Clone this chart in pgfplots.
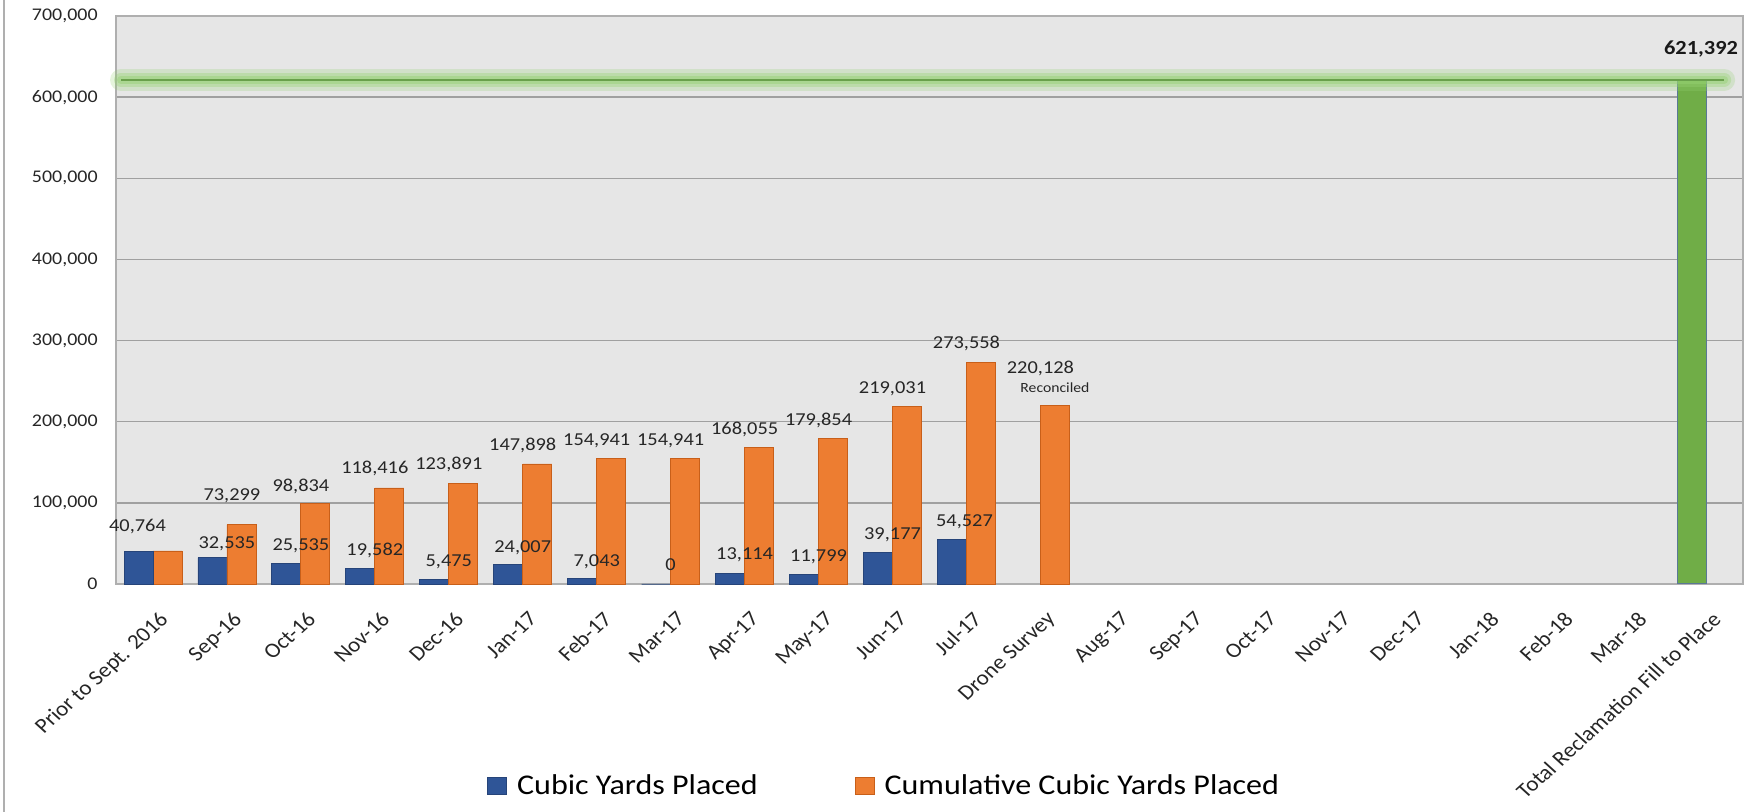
\documentclass[border=0pt]{standalone}
\usepackage{pgfplots}
\pgfplotsset{compat=1.18}
\usepackage{pgfplotstable}
\usepackage{fontspec}
\setmainfont{Carlito}[FakeStretch=1.12]
\newfontfamily\plainfont{Carlito}

\definecolor{placedblue}{RGB}{47,85,151}
\definecolor{cumorange}{RGB}{237,125,49}
\definecolor{orangeedge}{RGB}{200,95,25}
\definecolor{totalgreen}{RGB}{112,173,71}
\definecolor{greenedge}{RGB}{90,120,150}
\definecolor{glowgreen}{RGB}{150,210,115}
\definecolor{linegreen}{RGB}{105,160,75}
\definecolor{plotbg}{RGB}{230,230,230}
\definecolor{gridgray}{RGB}{160,160,160}
\definecolor{framegray}{RGB}{175,175,175}
\definecolor{labelcolor}{RGB}{38,38,38}

% x = category index, dx/dy = label offsets in pt
\pgfplotstableread{
x y dx dy
1 32535 0 4.3
2 25535 0 6.15
3 19582 0 6.5
4 5475 0 6.3
5 24007 0 6.25
6 7043 0 5.65
7 0 0 6.5
8 13114 0 6.7
9 11799 0 6.5
10 39177 0 6.5
11 54527 -1 6.5
}\placed

\pgfplotstableread{
x y dx dy
0 40764 -7.75 9.5
1 73299 2.5 12.25
2 98834 0 6.4
3 118416 0 7
4 123891 0 6.75
5 147898 0 6.5
6 154941 0 6.2
7 154941 0 6.2
8 168055 0 6.65
9 179854 0 6.5
10 219031 0 6.5
11 273558 0 6.85
12 220128 0 15.7
}\cumulative

\begin{document}
\begin{tikzpicture}
\useasboundingbox (-58pt,-114pt) rectangle (816.5pt,292pt);
\draw[framegray, line width=0.75pt] (-56pt,292pt) -- (-56pt,-114pt);
\begin{axis}[
    width=813.5pt, height=284pt, scale only axis,
    xmin=-0.5, xmax=21.5, ymin=0, ymax=700000,
    xtick={0,...,21},
    xticklabels={Prior to Sept. 2016, Sep-16, Oct-16, Nov-16, Dec-16, Jan-17, Feb-17, Mar-17, Apr-17, May-17, Jun-17, Jul-17, Drone Survey, Aug-17, Sep-17, Oct-17, Nov-17, Dec-17, Jan-18, Feb-18, Mar-18, Total Reclamation Fill to Place},
    ytick={0,100000,...,700000},
    scaled y ticks=false,
    /pgf/number format/fixed,
    /pgf/number format/precision=0,
    /pgf/number format/1000 sep={,},
    /pgf/number format/assume math mode=true,
    ymajorgrids,
    major grid style={gridgray, line width=0.75pt},
    major tick length=0pt,
    axis line style={framegray, line width=0.75pt},
    axis background/.style={fill=plotbg},
    clip=false,
    tick label style={font=\fontsize{8.9pt}{10pt}\selectfont, color=labelcolor},
    yticklabel style={anchor=east, inner sep=0pt, xshift=-9pt},
    xticklabel style={font=\plainfont\fontsize{10.5pt}{12pt}\selectfont, xshift=2.5pt, yshift=-13pt, xscale=1.1, rotate=45, anchor=north east, inner sep=0pt},
    legend columns=-1,
    legend style={at={(0.228,-0.3556)}, anchor=west, draw=none, fill=none,
      font=\fontsize{14.3pt}{16pt}\selectfont, inner sep=0pt,
      /tikz/every odd column/.append style={column sep=3pt},
      /tikz/every even column/.append style={column sep=46.5pt}},
    legend image code/.code={\draw[#1] (0pt,-4.25pt) rectangle (9.5pt,4.25pt);},
]

\addplot[ybar, bar width=14.5pt, bar shift=-7.25pt, fill=placedblue, draw=placedblue!80!black, line width=0.4pt,
    nodes near coords,
    visualization depends on={\thisrow{dx} \as \lbldx},
    visualization depends on={\thisrow{dy} \as \lbldy},
    nodes near coords style={anchor=base, inner sep=0pt, xshift=\lbldx pt, yshift=\lbldy pt,
      font=\fontsize{9.1pt}{10pt}\selectfont, color=labelcolor}]
  table[x=x, y=y] {\placed};
\addlegendentry{Cubic Yards Placed}

\addplot[ybar, bar width=14.5pt, bar shift=7.25pt, fill=cumorange, draw=orangeedge, line width=0.4pt,
    nodes near coords,
    visualization depends on={\thisrow{dx} \as \lbldx},
    visualization depends on={\thisrow{dy} \as \lbldy},
    nodes near coords style={anchor=base, inner sep=0pt, xshift=\lbldx pt, yshift=\lbldy pt,
      font=\fontsize{9.1pt}{10pt}\selectfont, color=labelcolor}]
  table[x=x, y=y] {\cumulative};
\addlegendentry{Cumulative Cubic Yards Placed}

% first blue bar, its value is labelled on the orange one
\addplot[forget plot, ybar, bar width=14.5pt, bar shift=-7.25pt, fill=placedblue, draw=placedblue!80!black, line width=0.4pt]
  coordinates {(0,40764)};

% total to place
\addplot[forget plot, ybar, bar width=14.5pt, bar shift=-7.25pt, fill=totalgreen, draw=greenedge, line width=0.5pt,
    nodes near coords,
    nodes near coords style={anchor=base, inner sep=0pt, xshift=-2.5pt, yshift=12.5pt,
      font=\bfseries\fontsize{10pt}{11pt}\selectfont, color=black!90}]
  coordinates {(21,621392)};

% target line with glow
\addplot[forget plot, glowgreen, opacity=0.25, line width=11pt, line cap=round] coordinates {(-0.432,621392) (21.245,621392)};
\addplot[forget plot, glowgreen, opacity=0.35, line width=7pt, line cap=round] coordinates {(-0.432,621392) (21.245,621392)};
\addplot[forget plot, glowgreen, opacity=0.45, line width=4pt, line cap=round] coordinates {(-0.432,621392) (21.245,621392)};
\addplot[forget plot, linegreen, line width=0.8pt] coordinates {(-0.432,621392) (21.245,621392)};

% second line of the drone survey label
\addplot[forget plot, only marks, mark=*, mark size=0pt, mark options={draw=none, fill=none},
    nodes near coords={Reconciled},
    nodes near coords style={anchor=base, inner sep=0pt, xshift=7.25pt, yshift=6.2pt,
      font=\fontsize{7pt}{8pt}\selectfont, color=labelcolor}]
  coordinates {(12,220128)};

\end{axis}
\end{tikzpicture}
\end{document}
